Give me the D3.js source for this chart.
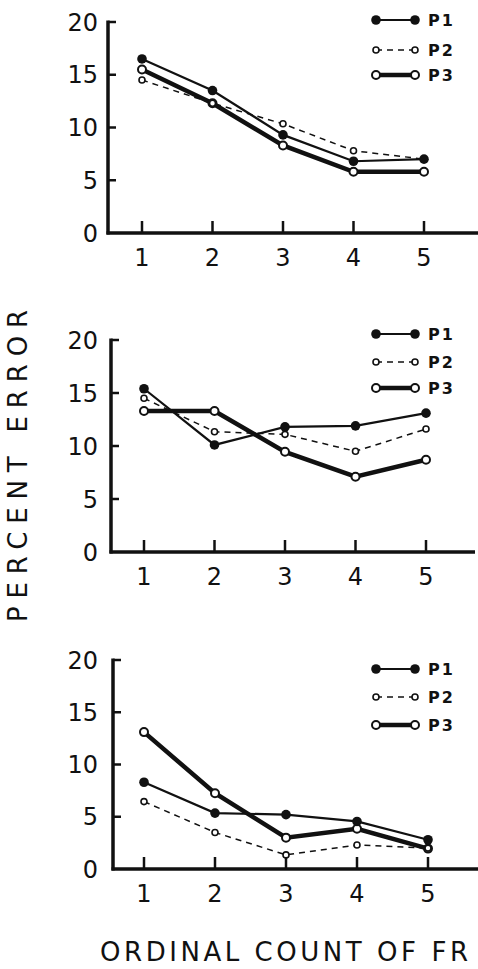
<!DOCTYPE html>
<html>
<head>
<meta charset="UTF-8">
<script src="https://d3js.org/d3.v7.min.js"></script>
<style>
  body { margin: 0; background: #fff; }
  svg text { font-family: "DejaVu Sans", sans-serif; fill: #111; }
</style>
</head>
<body>
<svg></svg>
<script>
const width = 478, height = 969;

// data
const counts = [1, 2, 3, 4, 5];
const yTicks = [0, 5, 10, 15, 20];
const seriesNames = ["P1", "P2", "P3"];

const top_P1 = [16.5, 13.5, 9.3, 6.8, 7.0];
const top_P2 = [14.5, 12.3, 10.35, 7.8, 7.0];
const top_P3 = [15.5, 12.3, 8.3, 5.8, 5.8];

const mid_P1 = [15.4, 10.1, 11.8, 11.9, 13.1];
const mid_P2 = [14.5, 11.35, 11.1, 9.5, 11.6];
const mid_P3 = [13.3, 13.3, 9.45, 7.1, 8.7];

const bot_P1 = [8.3, 5.35, 5.2, 4.55, 2.8];
const bot_P2 = [6.45, 3.5, 1.35, 2.3, 2.0];
const bot_P3 = [13.1, 7.25, 3.0, 3.85, 1.95];

// layout of the three panels
const panels = [
  { series: [top_P1, top_P2, top_P3], axisX: 108, y0: 233, y20: 22, x1: 142, x5: 424, right: 478, legendY: [20, 50, 75] },
  { series: [mid_P1, mid_P2, mid_P3], axisX: 111, y0: 552, y20: 340, x1: 144, x5: 426, right: 475, legendY: [334, 362, 388] },
  { series: [bot_P1, bot_P2, bot_P3], axisX: 113, y0: 869, y20: 660, x1: 144, x5: 428, right: 478, legendY: [669, 697, 725] }
];

const styles = {
  P1: { width: 2.2, dash: null, r: 4.8, fill: "#111", ring: 0 },
  P2: { width: 1.5, dash: "6,5", r: 3, fill: "#fff", ring: 1.6 },
  P3: { width: 4.5, dash: null, r: 4, fill: "#fff", ring: 2 }
};

const svg = d3.select("svg")
  .attr("width", width)
  .attr("height", height);

function drawMarker(g, cx, cy, st) {
  g.append("circle")
    .attr("cx", cx).attr("cy", cy).attr("r", st.r)
    .attr("fill", st.fill)
    .attr("stroke", "#111")
    .attr("stroke-width", st.ring || 0);
}

panels.forEach(p => {
  const x = d3.scaleLinear().domain([1, 5]).range([p.x1, p.x5]);
  const y = d3.scaleLinear().domain([0, 20]).range([p.y0, p.y20]);
  const g = svg.append("g");

  // axes
  g.append("line")
    .attr("x1", p.axisX).attr("x2", p.axisX)
    .attr("y1", y(20) - 1.5).attr("y2", p.y0 + 1.5)
    .attr("stroke", "#111").attr("stroke-width", 3.5);
  g.append("line")
    .attr("x1", p.axisX - 1.5).attr("x2", p.right)
    .attr("y1", p.y0).attr("y2", p.y0)
    .attr("stroke", "#111").attr("stroke-width", 3.5);

  // y ticks (inside) and labels
  yTicks.forEach(t => {
    if (t > 0) {
      g.append("line")
        .attr("x1", p.axisX).attr("x2", p.axisX + 8)
        .attr("y1", y(t)).attr("y2", y(t))
        .attr("stroke", "#111").attr("stroke-width", 2.5);
    }
    g.append("text")
      .attr("x", 98).attr("y", y(t))
      .attr("text-anchor", "end")
      .attr("dy", "0.36em")
      .style("font-size", "24px")
      .text(t);
  });

  // x ticks (upward) and labels
  counts.forEach(c => {
    g.append("line")
      .attr("x1", x(c)).attr("x2", x(c))
      .attr("y1", p.y0).attr("y2", p.y0 - 12)
      .attr("stroke", "#111").attr("stroke-width", 2.5);
    g.append("text")
      .attr("x", x(c)).attr("y", p.y0 + 33)
      .attr("text-anchor", "middle")
      .style("font-size", "24px")
      .text(c);
  });

  // series lines, drawn P3 first so thin lines sit on top
  const line = d3.line().x((d, i) => x(counts[i])).y(d => y(d));
  [2, 1, 0].forEach(k => {
    const st = styles[seriesNames[k]];
    g.append("path")
      .datum(p.series[k])
      .attr("d", line)
      .attr("fill", "none")
      .attr("stroke", "#111")
      .attr("stroke-width", st.width)
      .attr("stroke-dasharray", st.dash);
  });
  [2, 1, 0].forEach(k => {
    const st = styles[seriesNames[k]];
    p.series[k].forEach((v, i) => drawMarker(g, x(counts[i]), y(v), st));
  });

  // legend
  seriesNames.forEach((name, k) => {
    const st = styles[name];
    const ly = p.legendY[k];
    g.append("line")
      .attr("x1", 376).attr("x2", 415)
      .attr("y1", ly).attr("y2", ly)
      .attr("stroke", "#111")
      .attr("stroke-width", st.width)
      .attr("stroke-dasharray", st.dash);
    drawMarker(g, 376, ly, st);
    drawMarker(g, 415, ly, st);
    g.append("text")
      .attr("x", 428).attr("y", ly)
      .attr("dy", "0.36em")
      .style("font-size", "16px")
      .style("font-weight", "bold")
      .style("letter-spacing", "2px")
      .text(name);
  });
});

// axis titles
svg.append("text")
  .attr("transform", "translate(27,466) rotate(-90)")
  .attr("text-anchor", "middle")
  .attr("textLength", 312)
  .attr("lengthAdjust", "spacing")
  .style("font-size", "26px")
  .text("PERCENT   ERROR");

svg.append("text")
  .attr("x", 100).attr("y", 961)
  .attr("textLength", 368)
  .attr("lengthAdjust", "spacing")
  .style("font-size", "26px")
  .text("ORDINAL COUNT OF FR");
</script>
</body>
</html>
